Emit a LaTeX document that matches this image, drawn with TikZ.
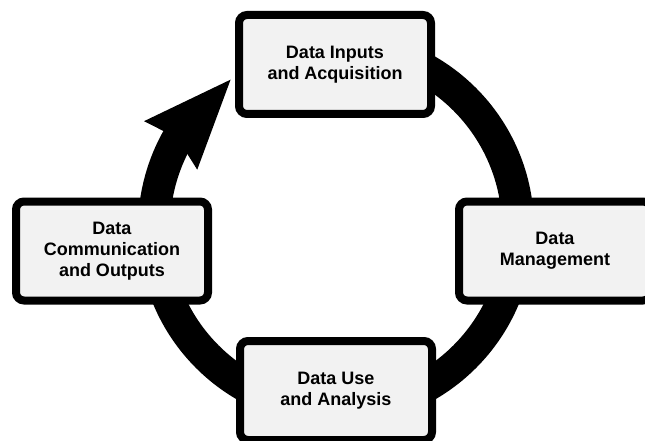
\documentclass[tikz,border=0pt]{standalone}
\usepackage{fontspec}
\setmainfont{Liberation Sans}
\usetikzlibrary{arrows.meta,bending}

\definecolor{boxgray}{HTML}{F2F2F2}

\tikzset{
  stage/.style={draw=black, line width=8pt, fill=boxgray, rounded corners=8pt,
    minimum width=192pt, minimum height=99pt, inner sep=0pt, align=center,
    font=\fontsize{18}{21}\selectfont\bfseries},
  ringarrow/.style={line width=32pt,
    -{Stealth[length=89pt,width=72pt,inset=10pt,line width=0pt,flex]}}
}

\begin{document}
\begin{tikzpicture}[x=1pt,y=-1pt]
  \useasboundingbox (0,0) rectangle (645,441);
  \coordinate (hub) at (336,228);
  % the big cycle arrow, running clockwise behind the boxes
  \draw[ringarrow] (hub) ++(270:182) arc[start angle=270, end angle=594.6, radius=182];
  % the four stages
  \node[stage] (inputs) at (335,64.5) {Data Inputs\\and Acquisition};
  \node[stage] (manage) at (555,251) {Data\\Management};
  \node[stage] (use) at (336,390.5) {Data Use\\and Analysis};
  \node[stage] (comm) at (112,251) {Data\\Communication\\and Outputs};
\end{tikzpicture}
\end{document}
